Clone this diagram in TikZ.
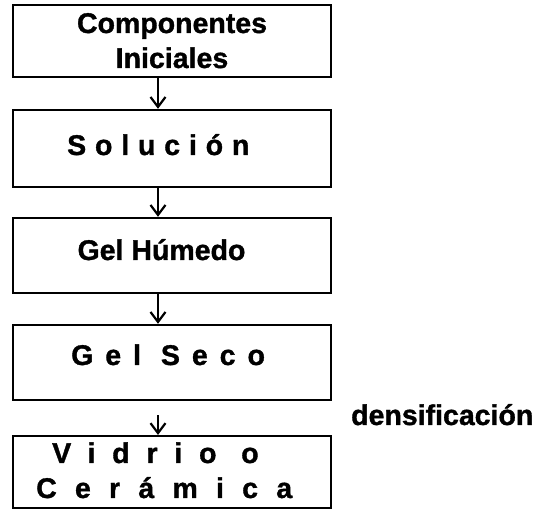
\documentclass[tikz,border=0pt]{standalone}
\usepackage{fontspec}
\setmainfont{Liberation Sans}[BoldFeatures={FakeBold=1.2}]
\usetikzlibrary{arrows.meta}
\begin{document}
\begin{tikzpicture}[x=1pt,y=-1pt,
  box/.style={draw,line width=2.4pt,minimum width=318pt,inner sep=0pt,anchor=center},
  lbl/.style={inner sep=0pt,font=\fontsize{28.5}{35}\selectfont\bfseries},
  arr/.style={line width=2pt,-{Straight Barb[length=10pt,width=15pt,line width=2.2pt]}}]
\useasboundingbox (0,0) rectangle (539,510);
% boxes
\node[box,minimum height=72pt] (b1) at (172,41) {};
\node[box,minimum height=77pt] (b2) at (172,148.5) {};
\node[box,minimum height=75pt] (b3) at (172,255.5) {};
\node[box,minimum height=75pt] (b4) at (172,362.5) {};
\node[box,minimum height=72pt,line width=2pt] (b5) at (172,472) {};
% texts
\node[lbl,anchor=base] (t1a) at (172,33) {Componentes};
\node[lbl,anchor=base] (t1b) at (172,68) {Iniciales};
\node[lbl,anchor=base west] (t2) at (67,155) {\addfontfeature{LetterSpace=31}Solución};
\node[lbl,anchor=base] (t3) at (161.5,260) {Gel Húmedo};
\node[lbl,anchor=base west] (t4) at (71,365) {\addfontfeature{LetterSpace=42}Gel Seco};
\node[lbl,anchor=base west] (t5a) at (52,463) {\addfontfeature{LetterSpace=59}Vidrio o};
\node[lbl,anchor=base west] (t5b) at (36,498) {\addfontfeature{LetterSpace=64}Cerámica};
\node[lbl,anchor=base west] (dens) at (351,425) {densificación};
% arrows
\coordinate (ax) at (158,0);
\draw[arr] (b1.south -| ax) -- (b2.north -| ax);
\draw[arr] (b2.south -| ax) -- (b3.north -| ax);
\draw[arr] (b3.south -| ax) -- (b4.north -| ax);
\draw[arr,shorten <=14pt] (b4.south -| ax) -- (b5.north -| ax);
\end{tikzpicture}
\end{document}
